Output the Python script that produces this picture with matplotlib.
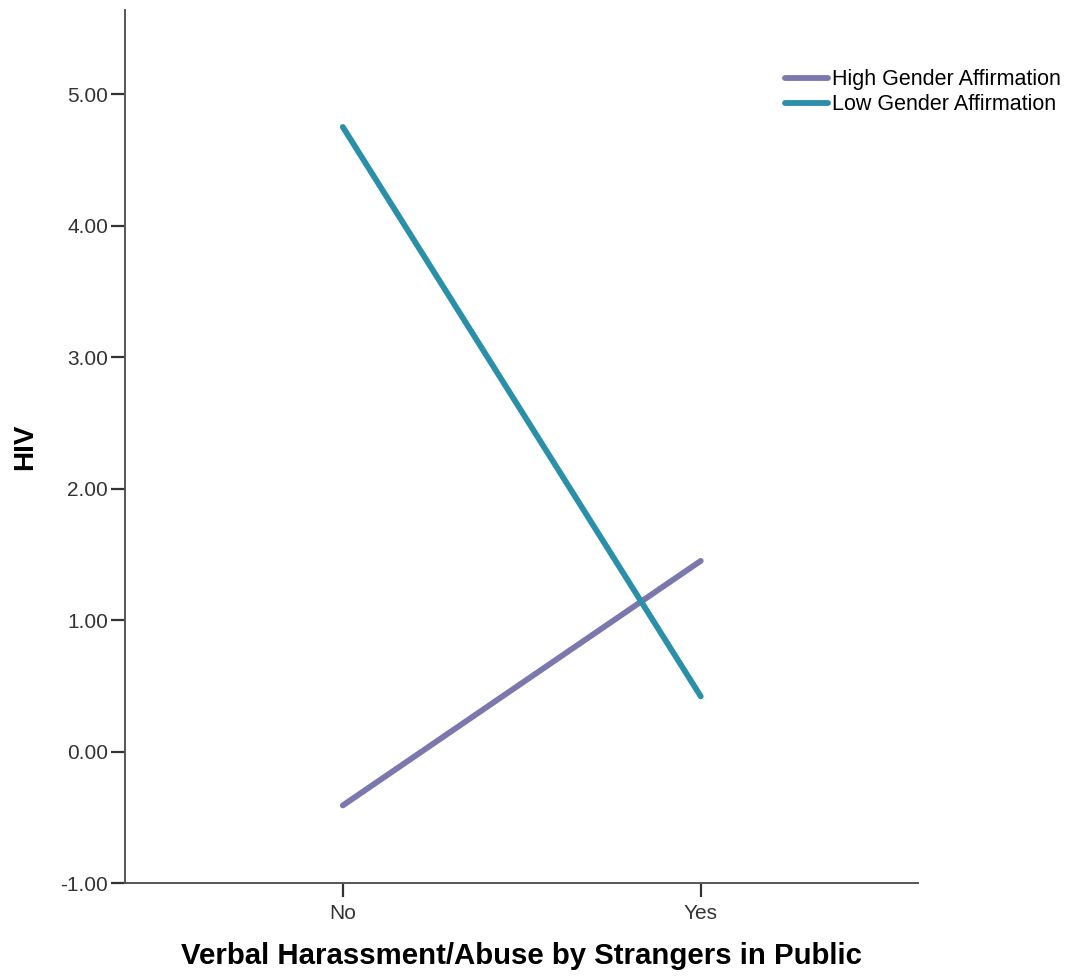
import matplotlib.pyplot as plt

plt.rcParams['font.family'] = ['Liberation Sans', 'DejaVu Sans']

categories = ['No', 'Yes']
high_affirm = [-0.41, 1.45]
low_affirm = [4.75, 0.42]
yticks = [-1, 0, 1, 2, 3, 4, 5]

fig = plt.figure(figsize=(10.67, 9.77), dpi=100)
ax = fig.add_axes([0.117, 0.0962, 0.743, 0.8936])

x = list(range(len(categories)))
ax.plot(x, high_affirm, color='#7b78ad', linewidth=4.2, solid_capstyle='round',
        label='High Gender Affirmation')
ax.plot(x, low_affirm, color='#2a8fa9', linewidth=4.2, solid_capstyle='round',
        label='Low Gender Affirmation')

ax.set_xlim(-0.609, 1.606)
ax.set_ylim(-1, 5.64)
ax.set_xticks(x)
ax.set_xticklabels(categories)
ax.set_yticks(yticks)
ax.set_yticklabels([f'{v:.2f}' for v in yticks])

for side in ['top', 'right']:
    ax.spines[side].set_visible(False)
for side in ['left', 'bottom']:
    ax.spines[side].set_color('#555555')
    ax.spines[side].set_linewidth(1.4)
ax.tick_params(length=10, width=1.6, color='#333333', labelsize=15, labelcolor='#333333', pad=2)
ax.tick_params(axis='x', pad=5)

ax.set_xlabel('Verbal Harassment/Abuse by Strangers in Public', fontsize=21.2, fontweight='bold', labelpad=14)
ax.set_ylabel('HIV', fontsize=20, fontweight='bold', labelpad=16)

leg = ax.legend(loc='upper left', bbox_to_anchor=(0.822, 0.942), frameon=False, fontsize=15.5,
                handlelength=2.0, handletextpad=0.2, labelspacing=0.18, borderaxespad=0)

fig.savefig('out.png', dpi=100)
